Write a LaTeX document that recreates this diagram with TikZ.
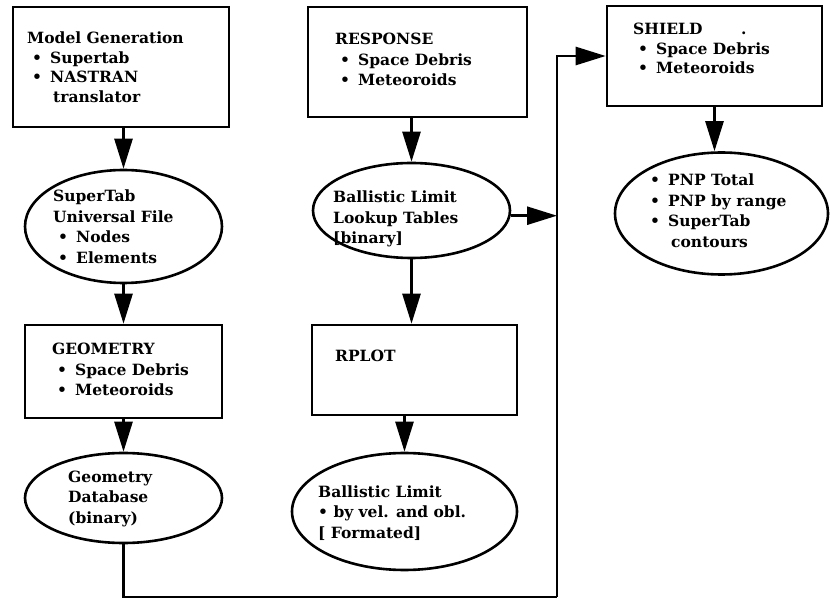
\documentclass[tikz,border=0pt]{standalone}
\usepackage{fontspec}
\setmainfont{DejaVu Serif}
\usetikzlibrary{shapes.geometric,arrows.meta}
\newcommand\bul{\hspace*{5pt}\makebox[18pt][l]{\textbullet}}
\newcommand\lns[1]{\begin{tabular}[t]{@{}l@{}}#1\end{tabular}}
\tikzset{
  box/.style={draw, line width=2.6pt, rectangle, inner sep=0pt},
  oval/.style={draw, ellipse, line width=2.6pt, inner sep=0pt},
  flow/.style={line width=2.6pt, -{Triangle[length=30pt,width=18pt]}},
  conn/.style={line width=2.6pt},
  txt/.style={anchor=base west, inner sep=0pt, font=\bfseries\fontsize{15.5}{19.5}\selectfont},
  txtw/.style={anchor=base west, inner sep=0pt, font=\bfseries\fontsize{15.5}{20.5}\selectfont},
}
\begin{document}
\begin{tikzpicture}[x=1pt,y=-1pt]
\useasboundingbox (0,0) rectangle (830,601);
% shapes
\node[box, minimum width=216pt, minimum height=120pt] (mg) at (121,67) {};
\node[oval, minimum width=197pt, minimum height=113pt] (st) at (123.5,226.5) {};
\node[box, minimum width=197pt, minimum height=93pt] (geo) at (123.5,371.5) {};
\node[oval, minimum width=197pt, minimum height=90pt] (gdb) at (123.5,498) {};
\node[box, minimum width=219pt, minimum height=110pt] (resp) at (417.5,62) {};
\node[oval, minimum width=197pt, minimum height=95pt] (bl) at (411.5,210.5) {};
\node[box, minimum width=205pt, minimum height=90pt] (rplot) at (414.5,370) {};
\node[oval, minimum width=225pt, minimum height=117pt] (blf) at (404.5,511.5) {};
\node[box, minimum width=215pt, minimum height=100pt] (shield) at (714.5,56) {};
\node[oval, minimum width=213pt, minimum height=122pt] (pnp) at (721.5,213.5) {};
\coordinate (c1) at (557,597);
% texts
\node[txt] (tmg) at (27,44) {\lns{Model Generation\\ \bul Supertab\\ \bul NASTRAN\\ \hspace*{26pt}translator}};
\node[txtw] (tst) at (53,202) {\lns{SuperTab\\ Universal File\\ \bul Nodes\\ \bul Elements}};
\node[txtw] (tgeo) at (52,355) {\lns{GEOMETRY\\ \bul Space Debris\\ \bul Meteoroids}};
\node[txtw] (tgdb) at (68,482) {\lns{Geometry\\ Database\\ (binary)}};
\node[txtw] (tresp) at (335,45) {\lns{RESPONSE\\ \bul Space Debris\\ \bul Meteoroids}};
\node[txtw] (tbl) at (333,203) {\lns{Ballistic Limit\\ Lookup Tables\\ {[}binary{]}}};
\node[txtw] (trplot) at (335,362) {RPLOT};
\node[txtw] (tblf) at (318,497) {\lns{Ballistic Limit\\ \textbullet\ by vel. and obl.\\ {[} Formated{]}}};
\node[txt] (tsh) at (633,35) {\lns{SHIELD\\ \bul Space Debris\\ \bul Meteoroids}};
\node[txt] (tdot) at (741,35) {.};
\node[txtw] (tpnp) at (645,186) {\lns{\bul PNP Total\\ \bul PNP by range\\ \bul SuperTab\\ \hspace*{26pt}contours}};
% connectors
\draw[flow] (mg.south -| st.north) -- (st.north);
\draw[flow] (st.south) -- (st.south |- geo.north);
\draw[flow] (geo.south) -- (gdb.north);
\draw[conn] (gdb.south) |- (c1);
\draw[flow] (c1) |- (shield.west);
\draw[flow] (resp.south -| bl.north) -- (bl.north);
\draw[flow] (bl.-3) -- (bl.-3 -| c1);
\draw[flow] (bl.south) -- (bl.south |- rplot.north);
\draw[flow] (rplot.south -| blf.north) -- (blf.north);
\draw[flow] (shield.south) -- (shield.south |- pnp.north);
\end{tikzpicture}
\end{document}
